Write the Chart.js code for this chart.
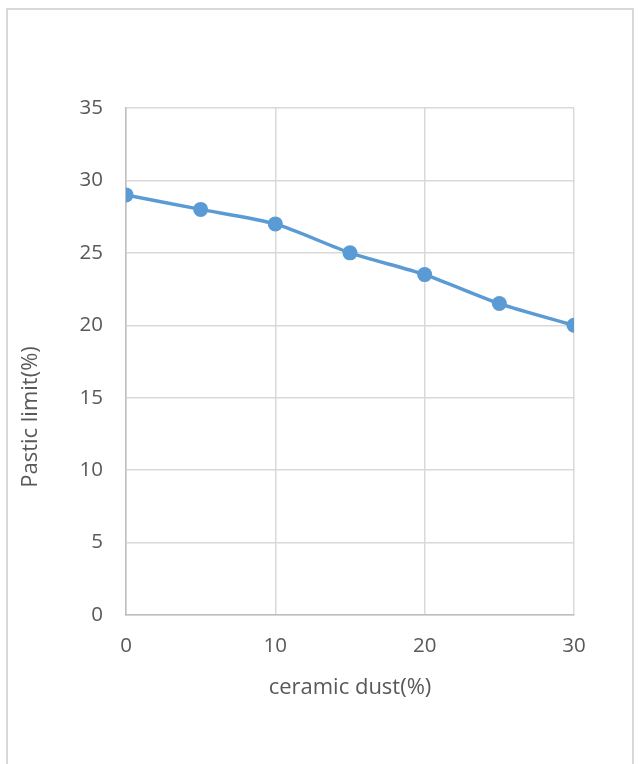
<!DOCTYPE html>
<html>
<head>
<meta charset="utf-8">
<script src="https://cdn.jsdelivr.net/npm/chart.js@4"></script>
<style>
  body { margin: 0; background: #fff; }
  #frame {
    position: absolute; left: 6px; top: 8px; width: 624px; height: 800px;
    border: 2px solid #d9d9d9; pointer-events: none;
  }
  #chart { position: absolute; left: 0; top: 0; }
</style>
</head>
<body>
<canvas id="chart" width="640" height="764"></canvas>
<div id="frame"></div>
<script>
// data
const dustPct = [0, 5, 10, 15, 20, 25, 30]
const plasticLimit = [29, 28, 27, 25, 23.5, 21.5, 20]
const xTitle = "ceramic dust(%)"
const yTitle = "Pastic limit(%)"

const FONT = "'Open Sans', sans-serif"
const TXT = "#595959"

// y title sits a bit lower than the plot middle in the original, so draw it by hand
const yTitlePlugin = {
    id: "yTitle",
    afterDraw(chart){
        const ctx = chart.ctx
        ctx.save()
        ctx.translate(31, 417)
        ctx.rotate(-Math.PI / 2)
        ctx.font = "22px " + FONT
        ctx.fillStyle = TXT
        ctx.textAlign = "center"
        ctx.textBaseline = "middle"
        ctx.fillText(yTitle, 0, 0)
        ctx.restore()
    }
}

new Chart(document.getElementById("chart"), {
    type: "line",
    data: {
        datasets: [{
            data: dustPct.map((x, i) => ({ x, y: plasticLimit[i] })),
            borderColor: "#5b9bd5",
            backgroundColor: "#5b9bd5",
            borderWidth: 3.5,
            pointRadius: 7.5,
            pointHoverRadius: 7.5,
            pointBorderWidth: 0,
            tension: 0.25,
        }]
    },
    options: {
        responsive: false,
        animation: false,
        layout: { padding: { left: 0, right: 66, top: 108, bottom: 0 } },
        plugins: { legend: { display: false }, tooltip: { enabled: false } },
        scales: {
            x: {
                type: "linear",
                min: 0, max: 30,
                afterFit: (s) => { s.height = 149 },
                ticks: { stepSize: 10, color: TXT, padding: 19, font: { family: FONT, size: 20.5 } },
                grid: { color: "#d9d9d9", lineWidth: 1.5, drawTicks: false },
                border: { color: "#bfbfbf", width: 1.5 },
                title: {
                    display: true, text: xTitle, color: TXT,
                    font: { family: FONT, size: 22 },
                    padding: { top: 0, bottom: 63 }
                }
            },
            y: {
                min: 0, max: 35,
                afterFit: (s) => { s.width = 126 },
                ticks: { stepSize: 5, color: TXT, padding: 23, font: { family: FONT, size: 20.5 } },
                grid: { color: "#d9d9d9", lineWidth: 1.5, drawTicks: false },
                border: { color: "#bfbfbf", width: 1.5 }
            }
        }
    },
    plugins: [yTitlePlugin]
})
</script>
</body>
</html>
